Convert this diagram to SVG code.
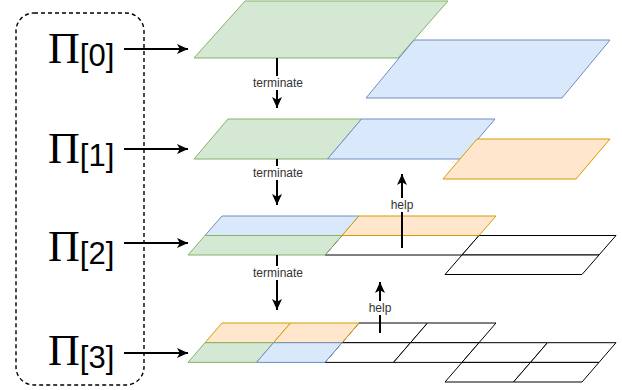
<svg xmlns="http://www.w3.org/2000/svg" width="622" height="390" viewBox="0 0 622 390">
<defs>
<style>
.g{fill:#d5e8d4;stroke:#82b366;stroke-width:1}
.b{fill:#dae8fc;stroke:#6c8ebf;stroke-width:1}
.o{fill:#ffe6cc;stroke:#d79b00;stroke-width:1}
.w{fill:#ffffff;stroke:#000000;stroke-width:1}
.arr{stroke:#000;stroke-width:2;fill:none;marker-end:url(#ah)}
.lbl{font-family:"Liberation Sans",Arial,sans-serif;font-size:12px;fill:#333;text-anchor:middle}
.pi{font-family:"Liberation Serif","Times New Roman",serif;font-size:44px;fill:#000}
.idx{font-family:"Liberation Sans",Arial,sans-serif;font-size:31px;fill:#000}
</style>
<marker id="ah" viewBox="0 0 11 10" refX="11" refY="5" markerWidth="11" markerHeight="10" markerUnits="userSpaceOnUse" orient="auto">
<path d="M0,0 L11,5 L0,10 L2.8,5 Z" fill="#000"/>
</marker>
</defs>
<rect width="622" height="390" fill="#ffffff"/>

<g id="group-box">
<rect x="16" y="13" width="128" height="372" rx="18" ry="18" fill="none" stroke="#000" stroke-width="1.4" stroke-dasharray="4 3"/>
<text x="48" y="63"><tspan class="pi">Π</tspan><tspan class="idx" dy="3">[0]</tspan></text>
<text x="48" y="163"><tspan class="pi">Π</tspan><tspan class="idx" dy="3">[1]</tspan></text>
<text x="48" y="261"><tspan class="pi">Π</tspan><tspan class="idx" dy="3">[2]</tspan></text>
<text x="48" y="365"><tspan class="pi">Π</tspan><tspan class="idx" dy="3">[3]</tspan></text>
</g>

<g id="level0">
<polygon class="g" points="245,1 448,1 398,58 194,58"/>
<polygon class="b" points="414,40 610,40 562,98 366,98"/>
</g>

<g id="level1">
<polygon class="g" points="228,119 361.5,119 327.5,159 194,159"/>
<polygon class="b" points="361.5,119 495,119 461,159 327.5,159"/>
<polygon class="o" points="477,139 610,139 576,179 443,179"/>
</g>

<g id="level2">
<polygon class="w" points="342,235.5 479,235.5 462,255 325,255"/>
<polygon class="w" points="479,235.5 616,235.5 599,255 462,255"/>
<polygon class="w" points="462,255 599,255 582,274.5 445,274.5"/>
<polygon class="b" points="222,216 359,216 342,235.5 205,235.5"/>
<polygon class="o" points="359,216 496,216 479,235.5 342,235.5"/>
<polygon class="g" points="205,235.5 342,235.5 325,255 188,255"/>
</g>

<g id="level3">
<polygon class="w" points="359,323 427.5,323 410.5,342.7 342,342.7"/>
<polygon class="w" points="427.5,323 496,323 479,342.7 410.5,342.7"/>
<polygon class="w" points="342,342.7 410.5,342.7 393.5,362.4 325,362.4"/>
<polygon class="w" points="410.5,342.7 479,342.7 462,362.4 393.5,362.4"/>
<polygon class="w" points="479,342.7 547.5,342.7 530.5,362.4 462,362.4"/>
<polygon class="w" points="547.5,342.7 616,342.7 599,362.4 530.5,362.4"/>
<polygon class="w" points="462,362.4 530.5,362.4 513.5,382 445,382"/>
<polygon class="w" points="530.5,362.4 599,362.4 582,382 513.5,382"/>
<polygon class="o" points="222,323 290.5,323 273.5,342.7 205,342.7"/>
<polygon class="o" points="290.5,323 359,323 342,342.7 273.5,342.7"/>
<polygon class="g" points="205,342.7 273.5,342.7 256.5,362.4 188,362.4"/>
<polygon class="b" points="273.5,342.7 342,342.7 325,362.4 256.5,362.4"/>
</g>

<g id="connectors">
<line class="arr" x1="124" y1="49" x2="188" y2="49"/>
<line class="arr" x1="124" y1="149" x2="188" y2="149"/>
<line class="arr" x1="124" y1="243" x2="188" y2="243"/>
<line class="arr" x1="124" y1="353" x2="188" y2="353"/>

<line class="arr" x1="277" y1="58" x2="277" y2="108"/>
<rect x="249" y="76" width="56" height="14" fill="#fff"/>
<text class="lbl" x="278" y="87">terminate</text>

<line class="arr" x1="277" y1="159" x2="277" y2="205"/>
<rect x="249" y="166" width="56" height="14" fill="#fff"/>
<text class="lbl" x="278" y="177">terminate</text>

<line class="arr" x1="277" y1="255" x2="277" y2="310"/>
<rect x="249" y="266" width="56" height="14" fill="#fff"/>
<text class="lbl" x="278" y="277">terminate</text>

<line class="arr" x1="402" y1="248" x2="402" y2="174"/>
<rect x="388" y="198" width="28" height="14" fill="#fff"/>
<text class="lbl" x="402" y="209">help</text>

<line class="arr" x1="380" y1="333" x2="380" y2="282"/>
<rect x="366" y="301" width="28" height="14" fill="#fff"/>
<text class="lbl" x="380" y="312">help</text>
</g>
</svg>
